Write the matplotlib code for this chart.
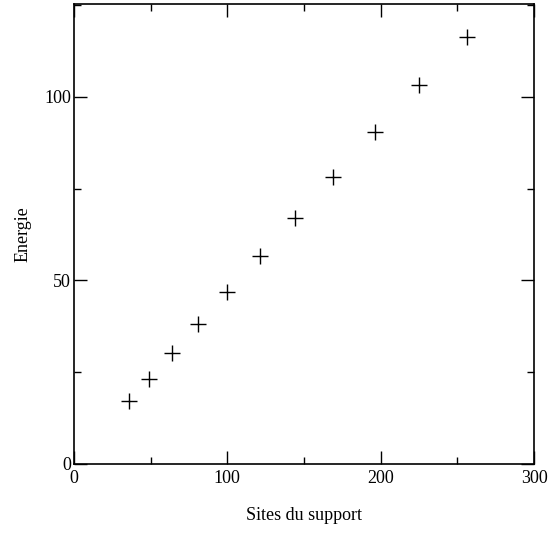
import matplotlib
matplotlib.use('Agg')
import matplotlib.pyplot as plt
import matplotlib.ticker as ticker

# sites du support vs energie
sites = [36, 49, 64, 81, 100, 121, 144, 169, 196, 225, 256]
energie = [17.2, 23.2, 30.2, 38.1, 46.9, 56.7, 67.0, 78.2, 90.5, 103.3, 116.3]

plt.rcParams['font.family'] = ['Liberation Serif', 'DejaVu Serif']
plt.rcParams['font.size'] = 13

fig = plt.figure(figsize=(5.51, 5.33), dpi=100)
ax = fig.add_axes([74/551, 69/533, 460/551, 460/533])

ax.plot(sites, energie, linestyle='none', marker='+', color='black',
        markersize=11, markeredgewidth=1.0)

ax.set_xlim(0, 300)
ax.set_ylim(0, 125.3)
ax.xaxis.set_major_locator(ticker.MultipleLocator(100))
ax.xaxis.set_minor_locator(ticker.MultipleLocator(50))
ax.yaxis.set_major_locator(ticker.MultipleLocator(50))
ax.yaxis.set_minor_locator(ticker.MultipleLocator(25))
ax.tick_params(which='both', direction='in', top=True, right=True, width=1)
ax.tick_params(which='major', length=9.5, pad=2)
ax.tick_params(which='minor', length=5)
ax.tick_params(axis='x', which='major', pad=4)
for s in ax.spines.values():
    s.set_linewidth(1.2)

ax.set_xlabel('Sites du support', labelpad=15)
ax.set_ylabel('Energie', labelpad=9)

plt.savefig('out.png')
plt.close()
